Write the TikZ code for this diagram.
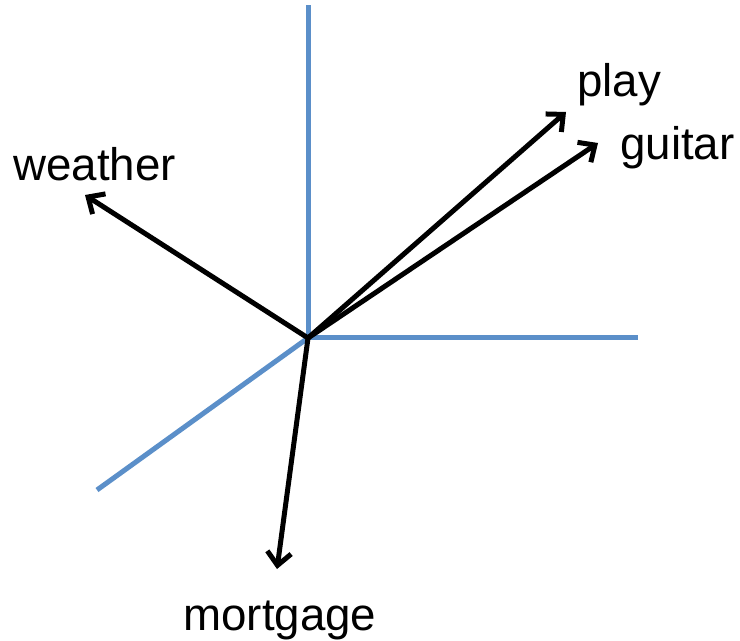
\documentclass[tikz,border=0pt]{standalone}
\usepackage{fontspec}
\setmainfont{Liberation Sans}
\usetikzlibrary{arrows.meta}
\definecolor{axisblue}{RGB}{91,143,201}

\begin{document}
\begin{tikzpicture}[x=0.02cm, y=-0.02cm,
      axis/.style={draw=axisblue, line width=0.1cm},
      vec/.style={-{Straight Barb[length=0.26cm, width=0.48cm]}, line width=0.1cm, black},
      word/.style={inner sep=0pt, anchor=base west, font=\fontsize{26}{30}\selectfont}
  ]
  \useasboundingbox (0,0) rectangle (740,641);

  % Axes
  \coordinate (o) at (308,338);
  \coordinate (ytop) at (308,5);
  \coordinate (xend) at (638,338);
  \coordinate (zend) at (97,490);
  \draw[axis] (o) -- (ytop);
  \draw[axis] (o) -- (xend);
  \draw[axis] (o) -- (zend);

  % Vector tips
  \coordinate (weathertip) at (85,195);
  \coordinate (playtip) at (566,112);
  \coordinate (guitartip) at (598,143);
  \coordinate (mortgagetip) at (277,569);

  % Arrows
  \draw[vec] (o) -- (weathertip);
  \draw[vec] (o) -- (playtip);
  \draw[vec] (o) -- (guitartip);
  \draw[vec] (o) -- (mortgagetip);

  % Labels
  \node[word] (weather) at (13,181) {weather};
  \node[word] (play) at (577,97) {play};
  \node[word] (guitar) at (620,160) {guitar};
  \node[word] (mortgage) at (183,630) {mortgage};

\end{tikzpicture}
\end{document}
